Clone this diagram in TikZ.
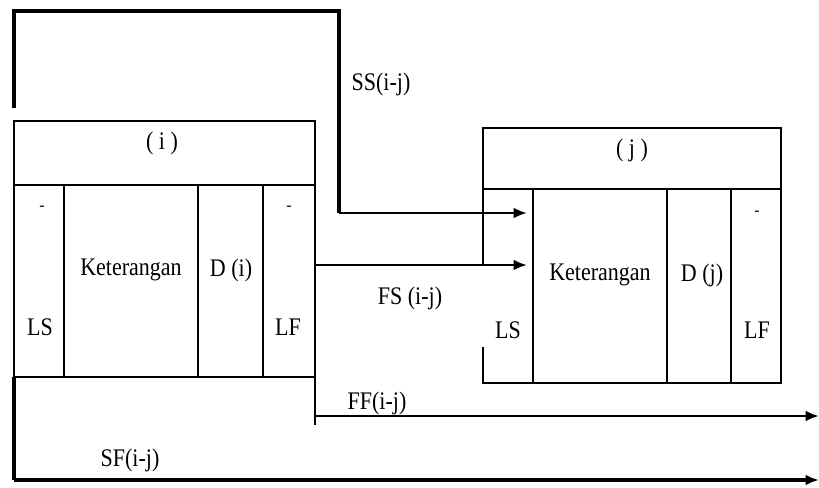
\documentclass[tikz,border=0pt]{standalone}
\usepackage{fontspec}
\setmainfont{Liberation Serif}
\usetikzlibrary{arrows.meta}
\newcommand{\tallT}[1]{\scalebox{1}[1.15]{#1}}
\begin{document}
\begin{tikzpicture}[x=0.75pt,y=-0.75pt,
  boxline/.style={line width=1.2pt},
  conn/.style={line width=1.8pt},
  arr/.style={conn,-{Latex[length=10pt,width=8pt]}},
  lbl/.style={font=\fontsize{16.5}{18}\selectfont,inner sep=0pt},
  small/.style={font=\fontsize{12}{14}\selectfont,inner sep=0pt}]
\useasboundingbox (0,0) rectangle (819,488);
% box i
\draw[boxline] (14,121) rectangle (315,377);
\draw[boxline] (14,185) -- (315,185);
\foreach \x in {64,198,263} \draw[boxline] (\x,185) -- (\x,377);
% box j
\draw[boxline] (483,265) -- (483,128) -- (781,128) -- (781,383) -- (483,383) -- (483,347);
\draw[boxline] (483,189) -- (781,189);
\foreach \x in {533,667,731} \draw[boxline] (\x,189) -- (\x,383);
% coordinates
\coordinate (ssA) at (14,108);
\coordinate (ssB) at (14,11);
\coordinate (ssC) at (339,11);
\coordinate (ssD) at (339,213);
\coordinate (ssE) at (527,213);
\coordinate (fsA) at (315,265);
\coordinate (fsE) at (527,265);
\coordinate (ffA) at (315,377);
\coordinate (ffB) at (315,425);
\coordinate (ffS) at (315,416);
\coordinate (ffE) at (819,416);
\coordinate (sfA) at (14,377);
\coordinate (sfB) at (14,480);
\coordinate (sfE) at (819,480);
% connectors
\draw[conn, line width=2.4pt] (ssA) -- (ssB) -- (ssC) -- (ssD);
\draw[arr] (ssD) -- (ssE);
\draw[arr] (fsA) -- (fsE);
\draw[conn] (ffA) -- (ffB);
\draw[arr] (ffS) -- (ffE);
\draw[conn, line width=2.4pt] (sfA) -- (sfB);
\draw[arr, line width=2.4pt] (sfB) -- (sfE);
% labels box i
\node[lbl] (ti) at (162,143) {\tallT{( i )}};
\node[small] (mi1) at (42,208) {-};
\node[small] (mi2) at (289,208) {-};
\node[lbl] (ki) at (131,270) {\tallT{Keterangan}};
\node[lbl] (di) at (231,270) {\tallT{D (i)}};
\node[lbl] (lsi) at (40,327) {\tallT{LS}};
\node[lbl] (lfi) at (288,327) {\tallT{LF}};
% labels box j
\node[lbl] (tj) at (632,150) {\tallT{( j )}};
\node[small] (mj) at (757,213) {-};
\node[lbl] (kj) at (600,275) {\tallT{Keterangan}};
\node[lbl] (dj) at (702,275) {\tallT{D (j)}};
\node[lbl] (lsj) at (508,330) {\tallT{LS}};
\node[lbl] (lfj) at (757,330) {\tallT{LF}};
% connector labels
\node[lbl] (ss) at (381,84) {\tallT{SS(i-j)}};
\node[lbl] (fs) at (410,298) {\tallT{FS (i-j)}};
\node[lbl] (ff) at (377,403) {\tallT{FF(i-j)}};
\node[lbl] (sf) at (130,460) {\tallT{SF(i-j)}};
\end{tikzpicture}
\end{document}
